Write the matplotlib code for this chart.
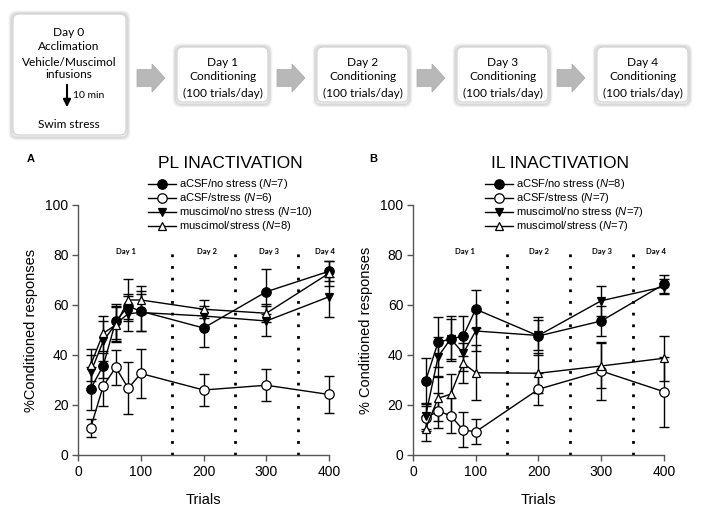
import matplotlib
matplotlib.use('Agg')
import matplotlib.pyplot as plt
from matplotlib.patches import FancyBboxPatch, FancyArrow

plt.rcParams['font.family'] = ['Liberation Sans', 'DejaVu Sans']
plt.rcParams['mathtext.fontset'] = 'custom'
plt.rcParams['mathtext.it'] = 'Liberation Sans:italic'
plt.rcParams['mathtext.rm'] = 'Liberation Sans'

trials = [20, 40, 60, 80, 100, 200, 300, 400]

# PL inactivation
pl_acsf_ns = [26.5, 35.7, 53.5, 59.5, 57.5, 50.8, 65.3, 73.5]
pl_acsf_ns_err = [8.5, 5, 7, 5, 8, 7.5, 9, 4]
pl_acsf_s = [10.9, 27.6, 35.0, 26.7, 32.6, 26.0, 27.9, 24.2]
pl_acsf_s_err = [3.6, 8, 6.9, 10.4, 9.7, 6.4, 6.3, 7.5]
pl_mus_ns = [33, 45.5, 52.5, 56.5, 57.0, 55.6, 53.6, 63.3]
pl_mus_ns_err = [7, 8, 7, 7, 7.5, 4, 6, 8]
pl_mus_s = [36.0, 48.7, 52.0, 62.0, 62.0, 58.3, 56.7, 72.7]
pl_mus_s_err = [6.5, 7, 7, 8.5, 5.5, 3.5, 3.5, 5]
pl_n = [7, 6, 10, 8]

# IL inactivation
il_acsf_ns = [29.6, 45.1, 46.4, 47.6, 58.3, 47.6, 53.6, 68.3]
il_acsf_ns_err = [9, 10, 9, 8, 7.5, 7.5, 6, 3.5]
il_acsf_s = [14.7, 17.6, 15.7, 10.0, 9.3, 26.3, 33.6, 25.3]
il_acsf_s_err = [5, 7, 7, 7, 5, 6.5, 11.5, 14]
il_mus_ns = [15.5, 39.3, 46.5, 40.7, 49.6, 47.8, 61.7, 67.3]
il_mus_ns_err = [5, 8, 8, 7, 8, 6, 6, 3]
il_mus_s = [10.5, 22.7, 24.3, 36.7, 32.9, 32.7, 35.6, 38.7]
il_mus_s_err = [5, 9, 8, 8, 11, 8, 9, 9]
il_n = [8, 7, 7, 7]

group_names = ['aCSF/no stress', 'aCSF/stress', 'muscimol/no stress', 'muscimol/stress']
markers = ['o', 'o', 'v', '^']
faces = ['black', 'white', 'black', 'white']

day_bounds = [150, 250, 350]
day_labels = ['Day 1', 'Day 2', 'Day 3', 'Day 4']

fig = plt.figure(figsize=(7.1, 5.14), dpi=100)

# --- top schematic, drawn in pixel coords ---
bg = fig.add_axes([0, 0, 1, 1], zorder=0)
bg.set_xlim(0, 710)
bg.set_ylim(514, 0)
bg.axis('off')

def box(x0, y0, w, h):
    for k, a in [(3, 0.08), (2, 0.12), (1, 0.18)]:
        bg.add_patch(FancyBboxPatch((x0 - k, y0 - k + 1), w + 2 * k, h + 2 * k,
                                    boxstyle='round,pad=0,rounding_size=6',
                                    fc='none', ec='gray', lw=2, alpha=a))
    bg.add_patch(FancyBboxPatch((x0, y0), w, h, boxstyle='round,pad=0,rounding_size=6',
                                fc='white', ec='#d0d0d0', lw=0.8))

bfont = dict(family=['Lato', 'DejaVu Sans'], fontsize=8.6, ha='center', va='center')
box(13, 14, 113, 121)
bg.text(69, 32, 'Day 0', **bfont)
bg.text(69, 47, 'Acclimation', **bfont)
bg.text(69, 63, 'Vehicle/Muscimol', **bfont)
bg.text(69, 75, 'infusions', **bfont)
bg.annotate('', xy=(67, 110), xytext=(67, 82),
            arrowprops=dict(arrowstyle='-|>', color='black', lw=1.5, mutation_scale=11))
bg.text(73, 95, '10 min', family=['Lato', 'DejaVu Sans'], fontsize=7.5, ha='left', va='center')
bg.text(69, 124, 'Swim stress', **bfont)

for i, x0 in enumerate([177, 317, 457, 597]):
    box(x0, 47, 91, 55)
    cx = x0 + 45.5
    bg.text(cx, 62, 'Day %d' % (i + 1), **bfont)
    bg.text(cx, 77, 'Conditioning', **bfont)
    bg.text(cx, 93, '(100 trials/day)', **bfont)
    ax0 = x0 - 40
    bg.add_patch(FancyArrow(ax0, 78, 15, 0, width=17, head_width=28, head_length=13,
                            length_includes_head=False, fc='#b8b8b8', ec='#a8a8a8', lw=0.5))

# --- data panels ---
def panel(rect, series, errs, ns, title, title_x, letter, letter_x, ylabel, daypos, leg_x):
    ax = fig.add_axes(rect, zorder=1)
    handles = []
    for j in range(4):
        ax.errorbar(trials, series[j], yerr=errs[j], fmt='none', ecolor='black',
                    elinewidth=1.0, capsize=3.5, capthick=1.0, clip_on=False, zorder=3)
        h, = ax.plot(trials, series[j], color='black', lw=1.0, marker=markers[j],
                     ms=6.8 if markers[j] == 'o' else 6.3, mfc=faces[j], mec='black',
                     mew=0.9, clip_on=False, zorder=4 + j,
                     label=group_names[j] + r' ($\mathit{N}$=%d)' % ns[j])
        handles.append(h)
    for b in day_bounds:
        ax.plot([b, b], [0, 81], ls=(0, (1, 3.2)), color='black', lw=2.0, zorder=2)
    for t, lab in zip(daypos, day_labels):
        ax.text(t, 81.5, lab, fontsize=5.5, fontweight='bold', ha='center', va='center',
                family=['Lato', 'DejaVu Sans'])
    ax.set_xlim(0, 400)
    ax.set_ylim(0, 100)
    ax.set_xticks([0, 100, 200, 300, 400])
    ax.set_yticks([0, 20, 40, 60, 80, 100])
    ax.spines['top'].set_visible(False)
    ax.spines['right'].set_visible(False)
    for s in ['left', 'bottom']:
        ax.spines[s].set_color('#555555')
        ax.spines[s].set_linewidth(1.0)
    ax.tick_params(direction='out', length=4, width=1.0, color='#555555', labelsize=10, pad=3)
    ax.set_xlabel('Trials', fontsize=10.5, labelpad=10)
    ax.set_ylabel(ylabel, fontsize=10.5, labelpad=5)
    ax.text(title_x, 1.164, title, transform=ax.transAxes, fontsize=12.5,
            ha='center', va='center')
    ax.text(letter_x, 1.184, letter, transform=ax.transAxes, fontsize=8, fontweight='bold',
            ha='center', va='center')
    ax.legend(handles=handles, loc='upper left', bbox_to_anchor=(leg_x, 1.11),
              frameon=False, fontsize=8, handlelength=2.5, handletextpad=0.3,
              labelspacing=0.0, borderaxespad=0, borderpad=0)
    return ax

panel([0.110, 0.1148, 0.3535, 0.4864],
      [pl_acsf_ns, pl_acsf_s, pl_mus_ns, pl_mus_s],
      [pl_acsf_ns_err, pl_acsf_s_err, pl_mus_ns_err, pl_mus_s_err],
      pl_n, 'PL INACTIVATION', 0.605, 'A', -0.19, '%Conditioned responses',
      [76, 205, 305, 394], 0.279)

panel([0.5817, 0.1148, 0.3535, 0.4864],
      [il_acsf_ns, il_acsf_s, il_mus_ns, il_mus_s],
      [il_acsf_ns_err, il_acsf_s_err, il_mus_ns_err, il_mus_s_err],
      il_n, 'IL INACTIVATION', 0.585, 'B', -0.16, '% Conditioned responses',
      [83, 201, 301, 388], 0.287)

fig.savefig('out.png', dpi=100)
